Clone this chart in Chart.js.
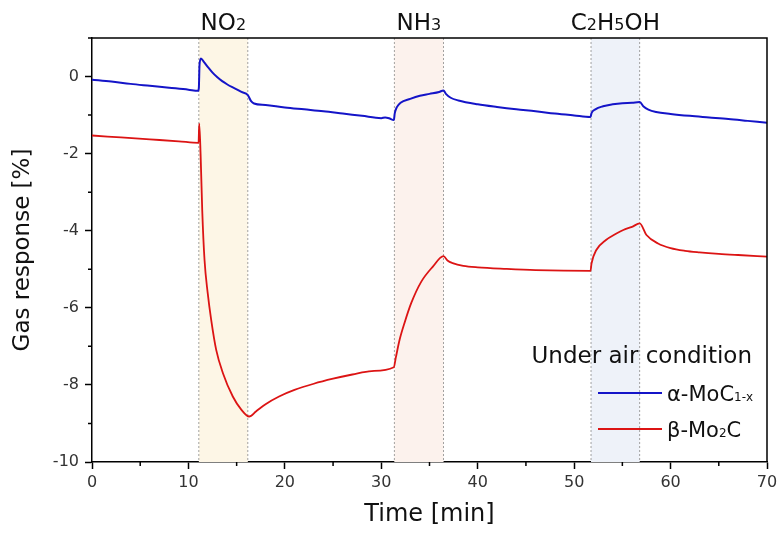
<!DOCTYPE html>
<html>
<head>
<meta charset="utf-8">
<script src="https://cdn.jsdelivr.net/npm/chart.js@4"></script>
<style>
  html, body { margin: 0; padding: 0; background: #fff; }
  #wrap { width: 783px; height: 536px; }
</style>
</head>
<body>
<div id="wrap"><canvas id="chart" width="783" height="536"></canvas></div>
<script>
// gas exposure windows [min]
const gasNames = [["NO", "2", ""], ["NH", "3", ""], ["C", "2", "H", "5", "OH"]];
const gasStart = [11.08, 31.35, 51.75];
const gasEnd = [16.16, 36.46, 56.8];

// alpha-MoC1-x response
const alphaTime = [0, 2, 4, 6, 8, 10, 11.0, 11.08, 11.15, 11.3, 11.6, 12, 12.5, 13, 13.5, 14, 14.5, 15, 15.5, 16.16, 16.5, 16.8,
  18, 20, 22, 24, 26, 28, 30, 30.4, 30.8, 31.3, 31.4, 31.6, 32, 33, 34, 35, 36, 36.45, 36.7, 37.2, 38, 40, 42, 44, 46, 48, 50, 51.7,
  51.8, 52.2, 53, 54, 55, 56, 56.8, 57.2, 57.7, 58.5, 60, 62, 64, 66, 68, 70];
const alphaResponse = [-0.08, -0.13, -0.19, -0.24, -0.29, -0.34, -0.37, -0.3, 0.3, 0.47, 0.38, 0.25, 0.1, -0.02, -0.12, -0.2, -0.27, -0.33, -0.4, -0.48, -0.64, -0.7,
  -0.74, -0.8, -0.85, -0.9, -0.96, -1.02, -1.08, -1.06, -1.08, -1.13, -0.95, -0.8, -0.68, -0.58, -0.5, -0.45, -0.4, -0.36, -0.45, -0.55, -0.62, -0.72, -0.79, -0.85, -0.9, -0.96, -1.01, -1.05,
  -0.95, -0.85, -0.77, -0.72, -0.69, -0.68, -0.66, -0.78, -0.86, -0.92, -0.97, -1.02, -1.06, -1.1, -1.15, -1.2];

// beta-Mo2C response
const betaTime = [0, 3, 6, 9, 11.05, 11.12, 11.26, 11.43, 11.67, 12.0, 12.36, 12.88, 13.57, 14.6, 15.48, 16.3, 17.0, 18, 19.4, 21, 23, 25, 27, 29, 31.3,
  31.5, 31.9, 32.4, 33.1, 34.15, 35.35, 36.45, 36.9, 37.4, 38.5, 40, 43, 46, 51.7,
  51.8, 52.3, 53.3, 54.2, 55.1, 56.0, 56.8, 57.5, 58.7, 60, 61.5, 63, 65, 67, 70];
const betaResponse = [-1.53, -1.58, -1.63, -1.68, -1.72, -1.22, -2.0, -3.46, -4.76, -5.62, -6.31, -7.09, -7.69, -8.3, -8.64, -8.82, -8.69, -8.5, -8.3, -8.13, -7.97, -7.84, -7.73, -7.64, -7.54,
  -7.3, -6.83, -6.4, -5.88, -5.32, -4.93, -4.66, -4.78, -4.84, -4.91, -4.95, -4.99, -5.02, -5.04,
  -4.85, -4.5, -4.24, -4.1, -3.98, -3.9, -3.81, -4.11, -4.33, -4.45, -4.52, -4.56, -4.6, -4.63, -4.67];

const gasFill = ["#fdf6e6", "#fcf2ed", "#eef2f9"];
const blue = "#1414c8";
const red = "#dc1414";
const FONT = "'DejaVu Sans', sans-serif";

const toPoints = (xs, ys) => xs.map((x, i) => ({ x, y: ys[i] }));

// shaded gas windows with dashed edges
const gasWindows = {
  id: "gasWindows",
  beforeDatasetsDraw(chart) {
    const { ctx, chartArea: a, scales: { x } } = chart;
    ctx.save();
    gasStart.forEach((s, i) => {
      const x0 = x.getPixelForValue(s);
      const x1 = x.getPixelForValue(gasEnd[i]);
      ctx.fillStyle = gasFill[i];
      ctx.fillRect(x0, a.top, x1 - x0, a.bottom - a.top);
      ctx.strokeStyle = "#8c8c8c";
      ctx.lineWidth = 0.8;
      ctx.setLineDash([2, 2]);
      [x0, x1].forEach((px) => {
        ctx.beginPath();
        ctx.moveTo(px, a.top);
        ctx.lineTo(px, a.bottom);
        ctx.stroke();
      });
    });
    ctx.restore();
  },
};

// draw text pieces alternating normal / subscript
function richText(ctx, parts, x, y, big, small, align) {
  const widths = parts.map((p, i) => {
    ctx.font = (i % 2 ? small : big) + "px " + FONT;
    return ctx.measureText(p).width;
  });
  const total = widths.reduce((s, w) => s + w, 0);
  let cx = align === "center" ? x - total / 2 : x;
  ctx.textAlign = "left";
  ctx.textBaseline = "alphabetic";
  parts.forEach((p, i) => {
    ctx.font = (i % 2 ? small : big) + "px " + FONT;
    ctx.fillText(p, cx, y);
    cx += widths[i];
  });
}

const decorations = {
  id: "decorations",
  afterDraw(chart) {
    const { ctx, chartArea: a, scales: { x, y } } = chart;
    ctx.save();
    // box frame top + right
    ctx.strokeStyle = "#000";
    ctx.lineWidth = 1.5;
    ctx.beginPath();
    ctx.moveTo(a.left, a.top);
    ctx.lineTo(a.right, a.top);
    ctx.lineTo(a.right, a.bottom);
    ctx.stroke();
    // minor ticks
    ctx.beginPath();
    x.ticks.forEach((t) => {
      if (t.value % 10 !== 0) {
        const px = x.getPixelForValue(t.value);
        ctx.moveTo(px, a.bottom);
        ctx.lineTo(px, a.bottom + 4);
      }
    });
    y.ticks.forEach((t) => {
      if (t.value % 2 !== 0) {
        const py = y.getPixelForValue(t.value);
        ctx.moveTo(a.left - 4, py);
        ctx.lineTo(a.left, py);
      }
    });
    ctx.stroke();
    // gas labels on top
    ctx.fillStyle = "#111";
    gasNames.forEach((parts, i) => {
      const cx = x.getPixelForValue((gasStart[i] + gasEnd[i]) / 2);
      richText(ctx, parts, cx, 30, 23, 16, "center");
    });
    // legend
    ctx.font = "23px " + FONT;
    ctx.textAlign = "right";
    ctx.textBaseline = "middle";
    ctx.fillText("Under air condition", 752, 357);
    ctx.lineWidth = 1.8;
    [[blue, 393, ["α-MoC", "1-x"]], [red, 429, ["β-Mo", "2", "C"]]].forEach(([c, ly, parts]) => {
      ctx.strokeStyle = c;
      ctx.beginPath();
      ctx.moveTo(598, ly);
      ctx.lineTo(662, ly);
      ctx.stroke();
      ctx.fillStyle = "#111";
      richText(ctx, parts, 667, ly + 8, 21, 12, "left");
    });
    ctx.restore();
  },
};

new Chart(document.getElementById("chart"), {
  type: "line",
  data: {
    datasets: [
      {
        label: "α-MoC1-x",
        data: toPoints(alphaTime, alphaResponse),
        borderColor: blue,
        borderWidth: 2,
        pointRadius: 0,
        cubicInterpolationMode: "monotone",
      },
      {
        label: "β-Mo2C",
        data: toPoints(betaTime, betaResponse),
        borderColor: red,
        borderWidth: 1.8,
        pointRadius: 0,
        cubicInterpolationMode: "monotone",
      },
    ],
  },
  options: {
    responsive: false,
    animation: false,
    layout: { padding: { top: 38, right: 16, left: 0, bottom: 0 } },
    plugins: { legend: { display: false }, tooltip: { enabled: false } },
    scales: {
      x: {
        type: "linear",
        min: 0,
        max: 70,
        afterFit: (s) => { s.height = 74; },
        border: { color: "#000", width: 1.5 },
        grid: {
          drawOnChartArea: false,
          tickLength: 7,
          tickWidth: 1.5,
          tickColor: (c) => (c.tick && c.tick.value % 10 === 0 ? "#000" : "rgba(0,0,0,0)"),
        },
        ticks: {
          stepSize: 5,
          padding: 4,
          maxRotation: 0,
          autoSkip: false,
          color: "#333",
          font: { family: FONT, size: 16 },
          callback: (v) => (v % 10 === 0 ? String(v) : ""),
        },
        title: {
          display: true,
          text: "Time [min]",
          color: "#111",
          font: { family: FONT, size: 24 },
          padding: { top: 0, bottom: 7 },
        },
      },
      y: {
        min: -10,
        max: 1,
        afterFit: (s) => { s.width = 92; },
        border: { color: "#000", width: 1.5 },
        grid: {
          drawOnChartArea: false,
          tickLength: 7,
          tickWidth: 1.5,
          tickColor: (c) => (c.tick && c.tick.value % 2 === 0 ? "#000" : "rgba(0,0,0,0)"),
        },
        ticks: {
          stepSize: 1,
          padding: 6,
          autoSkip: false,
          color: "#333",
          font: { family: FONT, size: 16 },
          callback: (v) => (v % 2 === 0 ? String(v) : ""),
        },
        title: {
          display: true,
          text: "Gas response [%]",
          color: "#111",
          font: { family: FONT, size: 23 },
          padding: { top: 9, bottom: 0 },
        },
      },
    },
  },
  plugins: [gasWindows, decorations],
});
</script>
</body>
</html>
